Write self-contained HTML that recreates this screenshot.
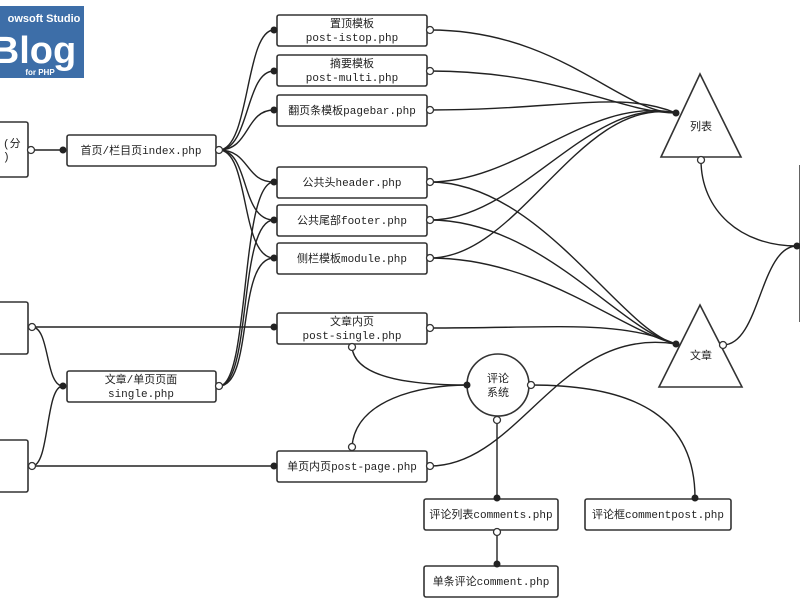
<!DOCTYPE html>
<html><head><meta charset="utf-8"><style>
html,body{margin:0;padding:0;background:#fff;}
svg{display:block;}
text{font-family:"Liberation Mono","Noto Sans CJK SC",monospace;font-size:11px;fill:#222;}
.b{fill:#fff;stroke:#333;stroke-width:1.6;}
.l{fill:none;stroke:#222;stroke-width:1.4;}
.f{fill:#222;}
.o{fill:#fff;stroke:#333;stroke-width:1.3;}
</style></head><body>
<svg width="800" height="600" viewBox="0 0 800 600">
<rect x="0" y="6" width="84" height="72" fill="#3d6ea8"/>
<text x="44" y="22" text-anchor="middle" style="font-family:'Liberation Sans',sans-serif;font-size:11px;font-weight:bold;fill:#fff">owsoft Studio</text>
<text x="34" y="63" text-anchor="middle" style="font-family:'Liberation Sans',sans-serif;font-size:38px;font-weight:bold;fill:#fff">Blog</text>
<text x="40" y="75" text-anchor="middle" style="font-family:'Liberation Sans',sans-serif;font-size:8px;font-weight:bold;fill:#fff">for PHP</text>

<g class="l">
<path d="M31 150 L63 150"/>
<path d="M219 150 C250 150,245 30,274 30"/>
<path d="M219 150 C250 150,245 71,274 71"/>
<path d="M219 150 C250 150,245 110,274 110"/>
<path d="M219 150 C250 150,245 182,274 182"/>
<path d="M219 150 C250 150,240 220,274 220"/>
<path d="M219 150 C250 150,240 258,274 258"/>
<path d="M219 386 C250 386,240 182,274 182"/>
<path d="M219 386 C252 386,238 220,274 220"/>
<path d="M219 386 C254 386,236 258,274 258"/>
<path d="M32 327 L274 327"/>
<path d="M32 466 L274 466"/>
<path d="M32 327 C50 327,45 386,63 386"/>
<path d="M32 466 C50 466,45 386,63 386"/>
<path d="M430 30 C560 30,620 113,676 113"/>
<path d="M430 71 C560 71,620 113,676 113"/>
<path d="M430 110 C560 110,620 90,676 113"/>
<path d="M430 182 C520 182,590 95,676 113"/>
<path d="M430 220 C520 220,590 95,676 113"/>
<path d="M430 258 C520 258,580 95,676 113"/>
<path d="M430 182 C540 182,620 330,676 344"/>
<path d="M430 220 C540 220,620 330,676 344"/>
<path d="M430 258 C540 258,620 330,676 344"/>
<path d="M430 328 C560 328,620 320,676 344"/>
<path d="M430 466 C520 466,560 325,676 344"/>
<path d="M352 347 C355 380,420 385,467 385"/>
<path d="M352 447 C355 400,420 385,467 385"/>
<path d="M531 385 C640 385,695 420,695 498"/>
<path d="M497 420 L497 498"/>
<path d="M497 531 L497 564"/>
<path d="M701 160 C701 210,740 246,797 246"/>
<path d="M723 345 C760 345,760 246,797 246"/>
<path d="M800 165 L800 322"/>
</g>

<rect class="b" x="-10" y="122" width="38" height="55" rx="2"/>
<text x="3" y="147">(分</text><text x="3" y="160">)</text>
<rect class="b" x="-10" y="302" width="38" height="52" rx="2"/>
<rect class="b" x="-10" y="440" width="38" height="52" rx="2"/>

<rect class="b" x="67" y="135" width="149" height="31" rx="2"/>
<text x="141" y="154" text-anchor="middle">首页/栏目页index.php</text>
<rect class="b" x="67" y="371" width="149" height="31" rx="2"/>
<text x="141" y="383" text-anchor="middle">文章/单页页面</text>
<text x="141" y="397" text-anchor="middle">single.php</text>

<rect class="b" x="277" y="15" width="150" height="31" rx="2"/>
<text x="352" y="27" text-anchor="middle">置顶模板</text>
<text x="352" y="41" text-anchor="middle">post-istop.php</text>
<rect class="b" x="277" y="55" width="150" height="31" rx="2"/>
<text x="352" y="67" text-anchor="middle">摘要模板</text>
<text x="352" y="81" text-anchor="middle">post-multi.php</text>
<rect class="b" x="277" y="95" width="150" height="31" rx="2"/>
<text x="352" y="114" text-anchor="middle">翻页条模板pagebar.php</text>
<rect class="b" x="277" y="167" width="150" height="31" rx="2"/>
<text x="352" y="186" text-anchor="middle">公共头header.php</text>
<rect class="b" x="277" y="205" width="150" height="31" rx="2"/>
<text x="352" y="224" text-anchor="middle">公共尾部footer.php</text>
<rect class="b" x="277" y="243" width="150" height="31" rx="2"/>
<text x="352" y="262" text-anchor="middle">侧栏模板module.php</text>
<rect class="b" x="277" y="313" width="150" height="31" rx="2"/>
<text x="352" y="325" text-anchor="middle">文章内页</text>
<text x="352" y="339" text-anchor="middle">post-single.php</text>
<rect class="b" x="277" y="451" width="150" height="31" rx="2"/>
<text x="352" y="470" text-anchor="middle">单页内页post-page.php</text>

<rect class="b" x="424" y="499" width="134" height="31" rx="2"/>
<text x="491" y="518" text-anchor="middle">评论列表comments.php</text>
<rect class="b" x="424" y="566" width="134" height="31" rx="2"/>
<text x="491" y="585" text-anchor="middle">单条评论comment.php</text>
<rect class="b" x="585" y="499" width="146" height="31" rx="2"/>
<text x="658" y="518" text-anchor="middle">评论框commentpost.php</text>

<circle class="b" cx="498" cy="385" r="31"/>
<text x="498" y="382" text-anchor="middle">评论</text>
<text x="498" y="396" text-anchor="middle">系统</text>

<polygon class="b" points="700,74 741,157 661,157"/>
<text x="701" y="130" text-anchor="middle">列表</text>
<polygon class="b" points="700,305 742,387 659,387"/>
<text x="701" y="359" text-anchor="middle">文章</text>

<g class="f">
<circle cx="63" cy="150" r="3.5"/>
<circle cx="274" cy="30" r="3.5"/><circle cx="274" cy="71" r="3.5"/><circle cx="274" cy="110" r="3.5"/>
<circle cx="274" cy="182" r="3.5"/><circle cx="274" cy="220" r="3.5"/><circle cx="274" cy="258" r="3.5"/>
<circle cx="274" cy="327" r="3.5"/><circle cx="274" cy="466" r="3.5"/>
<circle cx="63" cy="386" r="3.5"/>
<circle cx="676" cy="113" r="3.5"/><circle cx="676" cy="344" r="3.5"/>
<circle cx="797" cy="246" r="3.5"/>
<circle cx="467" cy="385" r="3.5"/>
<circle cx="497" cy="498" r="3.5"/><circle cx="497" cy="564" r="3.5"/><circle cx="695" cy="498" r="3.5"/>
</g>
<g class="o">
<circle cx="31" cy="150" r="3.5"/><circle cx="32" cy="327" r="3.5"/><circle cx="32" cy="466" r="3.5"/>
<circle cx="219" cy="150" r="3.5"/><circle cx="219" cy="386" r="3.5"/>
<circle cx="430" cy="30" r="3.5"/><circle cx="430" cy="71" r="3.5"/><circle cx="430" cy="110" r="3.5"/>
<circle cx="430" cy="182" r="3.5"/><circle cx="430" cy="220" r="3.5"/><circle cx="430" cy="258" r="3.5"/>
<circle cx="430" cy="328" r="3.5"/><circle cx="430" cy="466" r="3.5"/>
<circle cx="352" cy="347" r="3.5"/><circle cx="352" cy="447" r="3.5"/>
<circle cx="531" cy="385" r="3.5"/><circle cx="497" cy="420" r="3.5"/><circle cx="497" cy="532" r="3.5"/>
<circle cx="701" cy="160" r="3.5"/><circle cx="723" cy="345" r="3.5"/>
</g>
</svg>
</body></html>
